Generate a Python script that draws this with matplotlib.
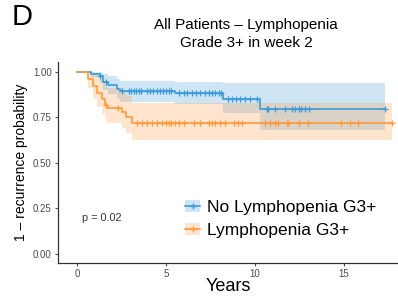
import numpy as np
import matplotlib.pyplot as plt
from matplotlib.patches import Patch
from matplotlib.lines import Line2D

plt.rcParams['font.family'] = ['Liberation Sans', 'DejaVu Sans']

# Kaplan-Meier steps (years, 1 - recurrence probability)
no_lym_t = [0, 0.8, 1.3, 1.45, 1.75, 2.25, 2.4, 5.5, 8.2, 10.3, 17.3]
no_lym_s = [1.0, 0.99, 0.975, 0.945, 0.93, 0.905, 0.895, 0.883, 0.852, 0.797, 0.797]
no_lym_hi = [1.0, 1.0, 1.0, 0.99, 0.975, 0.96, 0.95, 0.945, 0.94, 0.94, 0.94]
no_lym_lo = [1.0, 0.97, 0.94, 0.90, 0.88, 0.85, 0.835, 0.825, 0.775, 0.68, 0.68]
no_lym_cens = [1.3, 1.6, 2.5, 2.9, 3.0, 3.2, 3.3, 3.45, 3.6, 3.95, 4.1, 4.25, 4.5,
               4.65, 4.85, 5.0, 5.15, 5.3, 5.7, 6.0, 6.15, 6.45, 6.7, 6.9, 7.2,
               7.4, 7.55, 7.75, 7.95, 8.1, 8.5, 8.7, 8.9, 9.15, 9.45, 9.7, 10.1,
               10.65, 10.75, 11.1, 11.7, 12.05, 12.25, 12.45, 12.6, 12.8, 13.05, 17.3]

lym_t = [0, 0.6, 0.9, 1.1, 1.4, 1.55, 1.65, 2.5, 2.75, 3.1, 17.7]
lym_s = [1.0, 0.96, 0.92, 0.885, 0.85, 0.82, 0.80, 0.78, 0.755, 0.72, 0.72]
lym_hi = [1.0, 1.0, 0.99, 0.97, 0.95, 0.93, 0.91, 0.89, 0.87, 0.83, 0.83]
lym_lo = [1.0, 0.91, 0.85, 0.81, 0.77, 0.74, 0.72, 0.69, 0.665, 0.626, 0.626]
lym_cens = [1.6, 2.3, 3.35, 3.65, 3.9, 4.2, 4.5, 4.75, 5.0, 5.15, 5.3, 5.5, 5.7,
            6.0, 6.55, 6.9, 7.4, 7.55, 7.75, 8.05, 8.3, 8.8, 9.05, 9.25, 10.55,
            10.85, 11.1, 11.3, 11.8, 11.85, 12.45, 13.0, 14.8, 15.35, 15.8, 17.7]

blue = '#3E9BDB'
orange = '#FF9A3C'

fig = plt.figure(figsize=(3.98, 3.02), dpi=100)
ax = fig.add_axes([0.146, 0.129, 0.854, 0.666])


def km(t, s, hi, lo, cens, color):
    ax.fill_between(t, lo, hi, step='post', color=color, alpha=0.25, lw=0)
    ax.step(t, s, where='post', color=color, lw=1.2)
    idx = np.searchsorted(t, cens, side='right') - 1
    ax.plot(cens, np.array(s)[idx], ls='none', marker='+', ms=4.5,
            mew=0.9, color=color)


km(no_lym_t, no_lym_s, no_lym_hi, no_lym_lo, no_lym_cens, blue)
km(lym_t, lym_s, lym_hi, lym_lo, lym_cens, orange)

ax.set_xlim(-1.07, 18.03)
ax.set_ylim(-0.05, 1.055)
ax.set_xticks([0, 5, 10, 15])
ax.set_yticks([0, 0.25, 0.5, 0.75, 1.0])
ax.set_yticklabels(['0.00', '0.25', '0.50', '0.75', '1.00'])
for side in ['top', 'right']:
    ax.spines[side].set_visible(False)
for side in ['left', 'bottom']:
    ax.spines[side].set_color('#333333')
    ax.spines[side].set_linewidth(0.9)
ax.tick_params(labelsize=7, colors='#4D4D4D', length=2.5, width=0.8, pad=2)

ax.set_xlabel('Years', fontsize=13, labelpad=-1)
ax.set_ylabel('1 \u2013 recurrence probability', fontsize=10, labelpad=4)

fig.text(0.618, 0.887, 'All Patients \u2013 Lymphopenia\nGrade 3+ in week 2',
         ha='center', va='center', fontsize=11, linespacing=1.3)
fig.text(0.03, 0.945, 'D', ha='left', va='center', fontsize=21)

ax.text(0.3, 0.2, 'p = 0.02', fontsize=7.8, color='#333333', va='center')

handles = [(Patch(facecolor=blue, alpha=0.25, lw=0),
            Line2D([], [], color=blue, marker='+', ms=5, lw=1.2)),
           (Patch(facecolor=orange, alpha=0.25, lw=0),
            Line2D([], [], color=orange, marker='+', ms=5, lw=1.2))]
ax.legend(handles, ['No Lymphopenia G3+', 'Lymphopenia G3+'],
          loc='upper left', bbox_to_anchor=(0.347, 0.355), frameon=False,
          fontsize=12.5, handlelength=0.9, handletextpad=0.4,
          labelspacing=0.45, borderpad=0)

fig.savefig('out.png', dpi=100)
